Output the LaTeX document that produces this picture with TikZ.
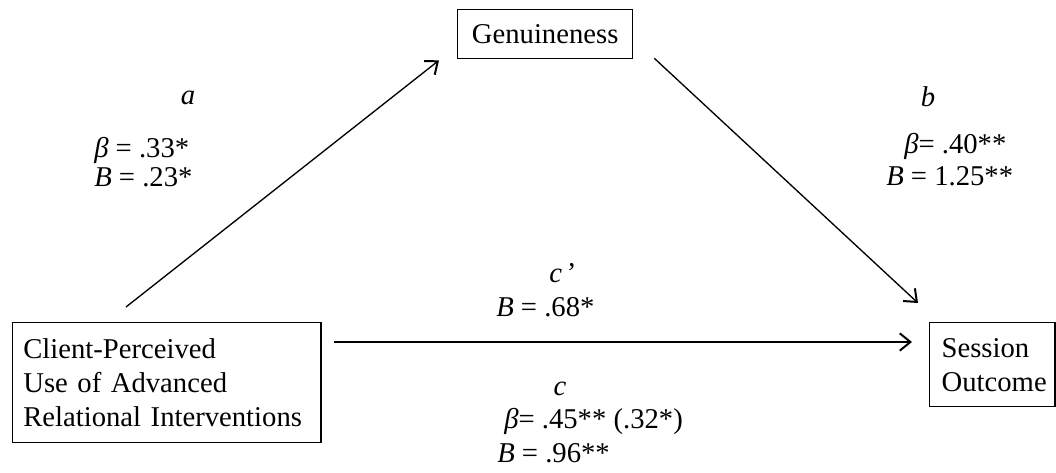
\documentclass[tikz,border=0pt]{standalone}
\usepackage{fontspec}
\setmainfont{Liberation Serif}
\usetikzlibrary{calc,arrows.meta}
\begin{document}
\begin{tikzpicture}[x=0.75pt,y=-0.75pt,
  every node/.style={font=\fontsize{21.5}{25.5}\selectfont, inner sep=0pt},
  box/.style={draw, line width=1pt, inner xsep=8pt, inner ysep=0pt},
  conn/.style={line width=1pt, -{Straight Barb[length=8pt,width=13pt,line width=1.5pt]}},
  lbl/.style={anchor=west}]
\useasboundingbox (0,0) rectangle (1056,473);
% boxes
\node[box, anchor=north west, minimum width=131.25pt, minimum height=36.75pt] (G) at (457,9) {Genuineness};
\node[box, anchor=north west, text width=215.25pt, minimum height=90pt, align=left] (L) at (12,322)
  {Client-Perceived\\Use of Advanced\\Relational Interventions};
\node[box, anchor=north west, text width=76pt, inner xsep=9pt, minimum height=63pt, align=left] (S) at (929,322)
  {Session\\Outcome};
% connectors
\coordinate (aS) at ($(L.north west)+(114,-15)$);
\coordinate (aE) at ($(G.south west)+(-18,1)$);
\coordinate (bS) at ($(G.south east)+(21,-1)$);
\coordinate (bE) at ($(S.north west)+(-11,-19)$);
\coordinate (cS) at ($(L.north east)+(12,20)$);
\coordinate (cE) at ($(S.north west)+(-17,20)$);
\draw[conn] (aS) -- (aE);
\draw[conn] (bS) -- (bE);
\draw[conn] (cS) -- (cE);
% labels
\node (la) at (188,98) {\textit{a}};
\node[lbl] (a1) at (94,150) {\textit{β} = .33*};
\node[lbl] (a2) at (94,177) {\textit{B} = .23*};
\node (lb) at (928,97) {\textit{b}};
\node[lbl] (b1) at (904,146) {\textit{β}= .40**};
\node[lbl] (b2) at (886,176) {\textit{B} = 1.25**};
\node (lcp) at (563,273) {\textit{c}\,’};
\node[lbl] (cp1) at (496,307) {\textit{B} = .68*};
\node (lc) at (560,389) {\textit{c}};
\node[lbl] (c1) at (504,421) {\textit{β}= .45** (.32*)};
\node[lbl] (c2) at (497,453) {\textit{B} = .96**};
\end{tikzpicture}
\end{document}
